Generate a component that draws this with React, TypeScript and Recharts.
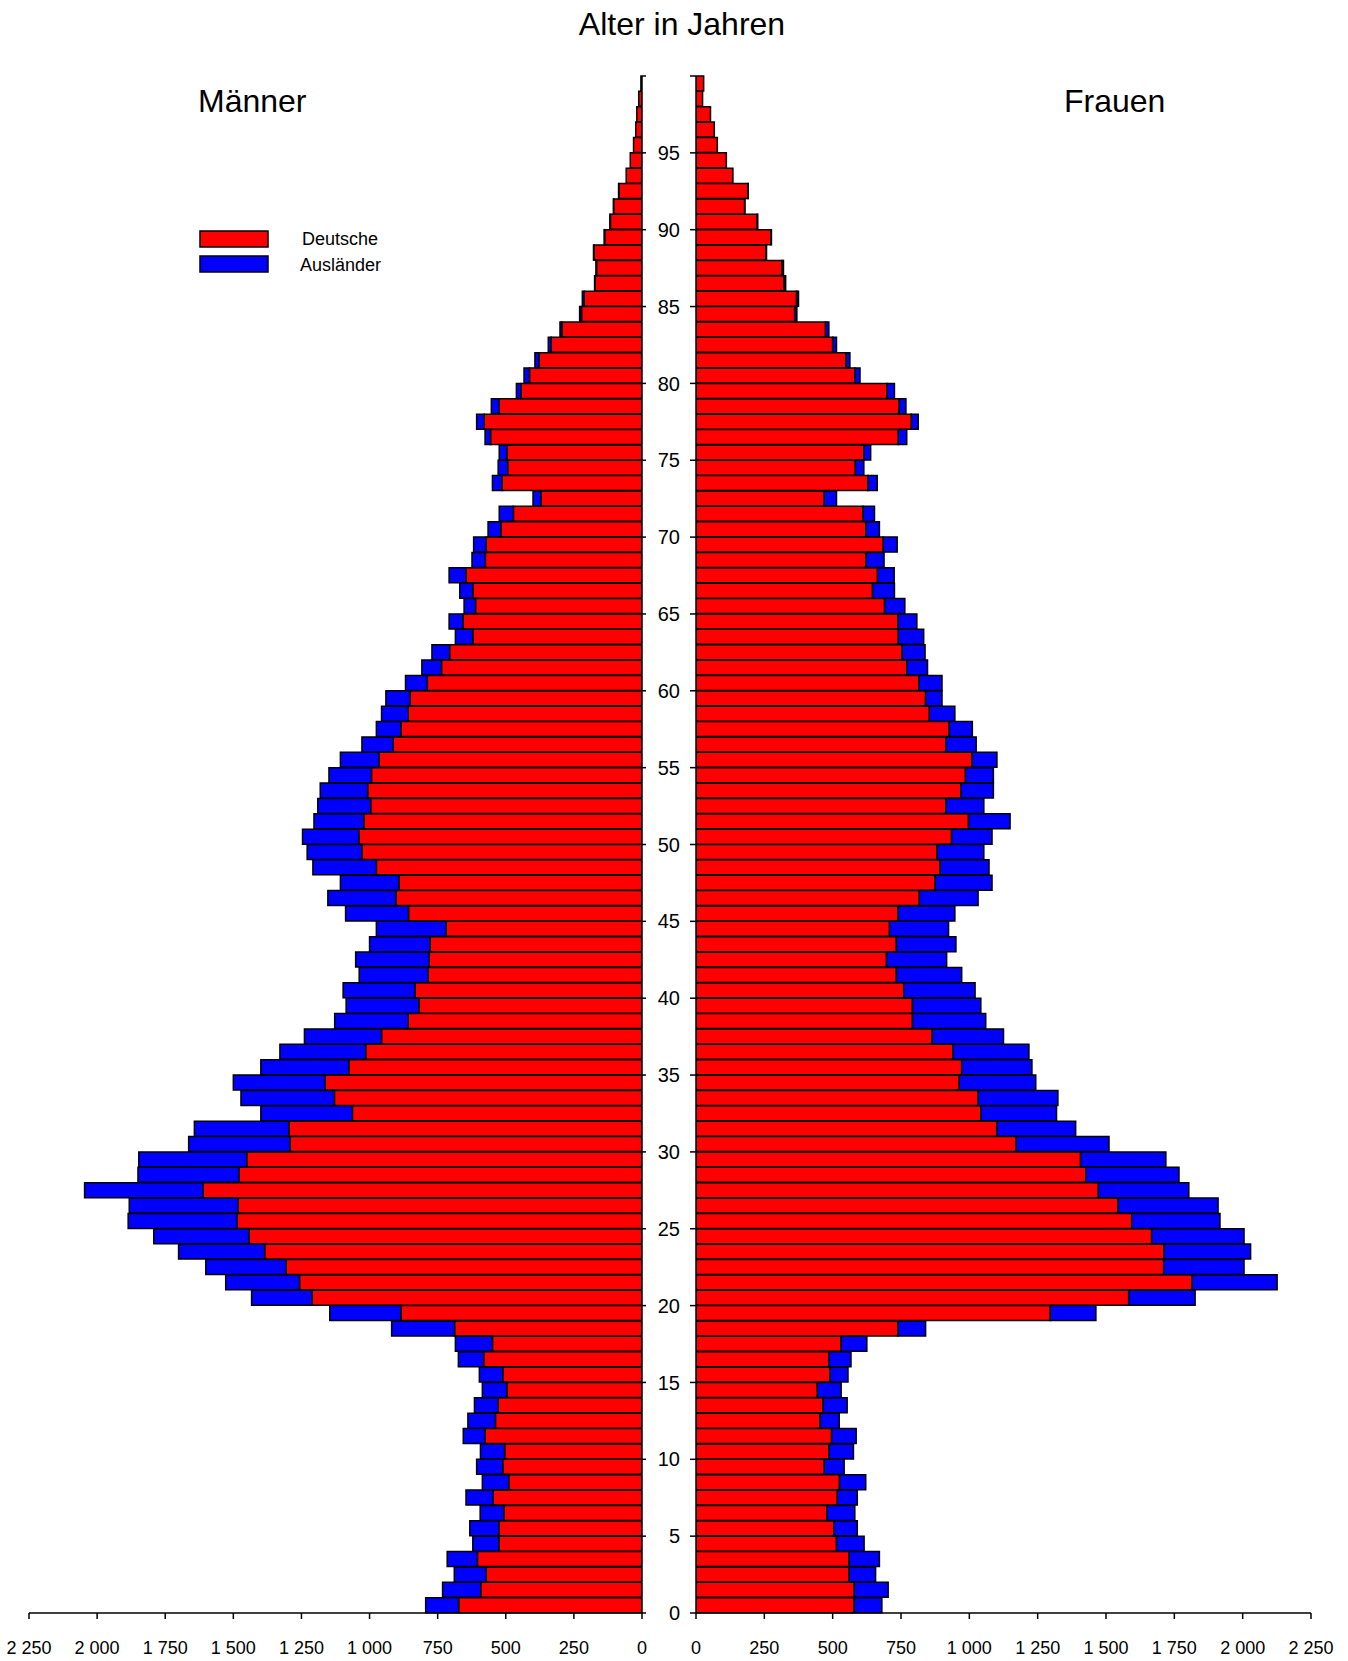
import React from 'react';
import { BarChart, Bar, XAxis, YAxis } from 'recharts';

// Age categories 0..99
const ages: number[] = Array.from({ length: 100 }, (_, i) => i);

// Männer – Deutsche
const menDeutsche: number[] = [
  673, 592, 572, 604, 525, 525, 507, 546, 489, 511,
  504, 576, 538, 528, 496, 511, 581, 549, 688, 885,
  1211, 1257, 1306, 1385, 1442, 1486, 1482, 1611, 1479, 1451,
  1292, 1296, 1063, 1129, 1163, 1076, 1014, 956, 858, 819,
  833, 785, 781, 778, 719, 857, 903, 892, 975, 1028,
  1039, 1021, 996, 1007, 993, 965, 913, 885, 858, 851,
  788, 736, 706, 621, 657, 611, 621, 646, 575, 572,
  518, 472, 371, 514, 493, 496, 556, 579, 524, 444,
  413, 378, 333, 294, 222, 212, 172, 167, 176, 137,
  116, 104, 85, 58, 43, 31, 23, 19, 12, 4,
];

// Männer – Ausländer
const menAuslaender: number[] = [
  121, 140, 117, 111, 96, 107, 87, 100, 97, 96,
  89, 80, 101, 87, 90, 86, 93, 136, 231, 261,
  222, 271, 295, 316, 350, 400, 400, 435, 371, 396,
  372, 347, 336, 343, 337, 323, 315, 283, 270, 267,
  264, 253, 270, 222, 256, 231, 250, 215, 233, 201,
  207, 183, 194, 174, 156, 142, 115, 90, 98, 89,
  80, 72, 65, 64, 51, 42, 48, 62, 49, 46,
  47, 52, 29, 35, 35, 28, 20, 28, 29, 17,
  20, 15, 11, 7, 7, 7, 2, 2, 2, 2,
  2, 1, 1, 0, 0, 0, 0, 0, 0, 0,
];

// Frauen – Deutsche
const womenDeutsche: number[] = [
  579, 579, 560, 560, 514, 504, 479, 517, 525, 469,
  486, 496, 454, 465, 444, 490, 486, 531, 739, 1296,
  1583, 1815, 1711, 1712, 1667, 1594, 1544, 1472, 1426, 1407,
  1171, 1101, 1042, 1032, 963, 972, 940, 864, 792, 792,
  760, 733, 697, 733, 708, 739, 817, 875, 893, 882,
  935, 997, 914, 969, 986, 1010, 914, 926, 854, 840,
  815, 771, 754, 740, 739, 690, 646, 664, 622, 685,
  622, 611, 469, 629, 583, 614, 740, 788, 743, 699,
  581, 549, 500, 474, 361, 368, 322, 315, 256, 274,
  224, 178, 190, 135, 111, 78, 67, 53, 24, 28,
];

// Frauen – Ausländer
const womenAuslaender: number[] = [
  101, 124, 97, 111, 101, 86, 102, 73, 96, 73,
  90, 90, 70, 88, 87, 66, 81, 94, 101, 167,
  243, 311, 294, 317, 338, 323, 366, 331, 341, 312,
  340, 288, 277, 292, 280, 257, 278, 261, 268, 250,
  261, 239, 220, 218, 216, 208, 215, 208, 179, 171,
  148, 152, 139, 119, 102, 91, 111, 85, 93, 60,
  85, 76, 84, 93, 69, 74, 80, 61, 66, 51,
  49, 42, 45, 34, 31, 25, 31, 25, 25, 27,
  19, 14, 14, 12, 8, 7, 6, 5, 2, 2,
  2, 1, 1, 0, 0, 0, 0, 0, 0, 0,
];

const valueTicks: number[] = [0, 250, 500, 750, 1000, 1250, 1500, 1750, 2000, 2250];
const ageTicks: number[] = [0, 5, 10, 15, 20, 25, 30, 35, 40, 45, 50, 55, 60, 65, 70, 75, 80, 85, 90, 95, 100];

const rows = ages.map((a, i) => ({
  age: a,
  mDe: menDeutsche[i],
  mAus: menAuslaender[i],
  wDe: womenDeutsche[i],
  wAus: womenAuslaender[i],
}));

const FONT = '"Liberation Sans", Arial, Helvetica, sans-serif';
const RED = '#ff0000';
const BLUE = '#0000ff';

const fmtValue = (v: number) => {
  if (v >= 1000) {
    const th = Math.floor(v / 1000);
    const rest = String(v % 1000).padStart(3, '0');
    return `${th} ${rest}`;
  }
  return String(v);
};

const fmtAge = (v: number) => (v === 100 ? '' : String(v));

const H = 1661;
const PLOT_TOP = 76;
const PLOT_BOTTOM = 1613;
const XAXIS_H = H - PLOT_BOTTOM;

export default function App() {
  return (
    <div style={{ position: 'absolute', left: 0, top: 0, width: 1348, height: H, background: '#fff', fontFamily: FONT }}>
      {/* Left: Männer */}
      <div style={{ position: 'absolute', left: 0, top: 0 }}>
        <BarChart
          layout="vertical"
          width={668}
          height={H}
          data={rows}
          margin={{ top: PLOT_TOP, right: 0, bottom: 0, left: 29 }}
          barCategoryGap={0}
          barGap={0}
        >
          <XAxis
            type="number"
            domain={[0, 2250]}
            ticks={valueTicks}
            reversed
            allowDataOverflow
            height={XAXIS_H}
            tickSize={6}
            tickMargin={22}
            tickFormatter={fmtValue}
            tick={{ fill: '#000', fontSize: 18, fontFamily: FONT }}
            axisLine={{ stroke: '#000', strokeWidth: 1.5 }}
            tickLine={{ stroke: '#000', strokeWidth: 1.5 }}
            interval={0}
          />
          <YAxis yAxisId="cat" type="category" dataKey="age" orientation="left" reversed hide width={0} />
          <YAxis
            yAxisId="num"
            type="number"
            dataKey="age"
            orientation="right"
            domain={[0, 100]}
            reversed
            allowDataOverflow
            ticks={ageTicks}
            interval={0}
            width={26}
            tickSize={4}
            tickFormatter={() => ''}
            axisLine={{ stroke: '#000', strokeWidth: 1.5 }}
            tickLine={{ stroke: '#000', strokeWidth: 1.5 }}
          />
          <Bar yAxisId="cat" dataKey="mDe" stackId="m" fill={RED} stroke="#000" strokeWidth={1.5} isAnimationActive={false} />
          <Bar yAxisId="cat" dataKey="mAus" stackId="m" fill={BLUE} stroke="#000" strokeWidth={1.5} isAnimationActive={false} />
        </BarChart>
      </div>

      {/* Right: Frauen */}
      <div style={{ position: 'absolute', left: 650, top: 0 }}>
        <BarChart
          layout="vertical"
          width={698}
          height={H}
          data={rows}
          margin={{ top: PLOT_TOP, right: 37, bottom: 0, left: 0 }}
          barCategoryGap={0}
          barGap={0}
        >
          <XAxis
            type="number"
            domain={[0, 2250]}
            ticks={valueTicks}
            allowDataOverflow
            height={XAXIS_H}
            tickSize={6}
            tickMargin={22}
            tickFormatter={fmtValue}
            tick={{ fill: '#000', fontSize: 18, fontFamily: FONT }}
            axisLine={{ stroke: '#000', strokeWidth: 1.5 }}
            tickLine={{ stroke: '#000', strokeWidth: 1.5 }}
            interval={0}
          />
          <YAxis yAxisId="cat" type="category" dataKey="age" orientation="right" reversed hide width={0} />
          <YAxis
            yAxisId="num"
            type="number"
            dataKey="age"
            orientation="left"
            domain={[0, 100]}
            reversed
            allowDataOverflow
            ticks={ageTicks}
            interval={0}
            width={46}
            tickSize={6}
            tickMargin={10}
            tickFormatter={fmtAge}
            tick={{ fill: '#000', fontSize: 20, fontFamily: FONT }}
            axisLine={{ stroke: '#000', strokeWidth: 1.5 }}
            tickLine={{ stroke: '#000', strokeWidth: 1.5 }}
          />
          <Bar yAxisId="cat" dataKey="wDe" stackId="w" fill={RED} stroke="#000" strokeWidth={1.5} isAnimationActive={false} />
          <Bar yAxisId="cat" dataKey="wAus" stackId="w" fill={BLUE} stroke="#000" strokeWidth={1.5} isAnimationActive={false} />
        </BarChart>
      </div>

      {/* Titles and legend */}
      <svg width={1348} height={H} style={{ position: 'absolute', left: 0, top: 0, pointerEvents: 'none' }}>
        <text x={682} y={35} textAnchor="middle" fontSize={32} fontFamily={FONT} fill="#000">Alter in Jahren</text>
        <text x={198} y={112} fontSize={32} fontFamily={FONT} fill="#000">Männer</text>
        <text x={1064} y={112} fontSize={32} fontFamily={FONT} fill="#000">Frauen</text>
        <rect x={200} y={231} width={68} height={16} fill={RED} stroke="#000" strokeWidth={1.5} />
        <rect x={200} y={256} width={68} height={16} fill={BLUE} stroke="#000" strokeWidth={1.5} />
        <text x={302} y={245} fontSize={18} fontFamily={FONT} fill="#000">Deutsche</text>
        <text x={300} y={271} fontSize={18} fontFamily={FONT} fill="#000">Ausländer</text>
      </svg>
    </div>
  );
}
